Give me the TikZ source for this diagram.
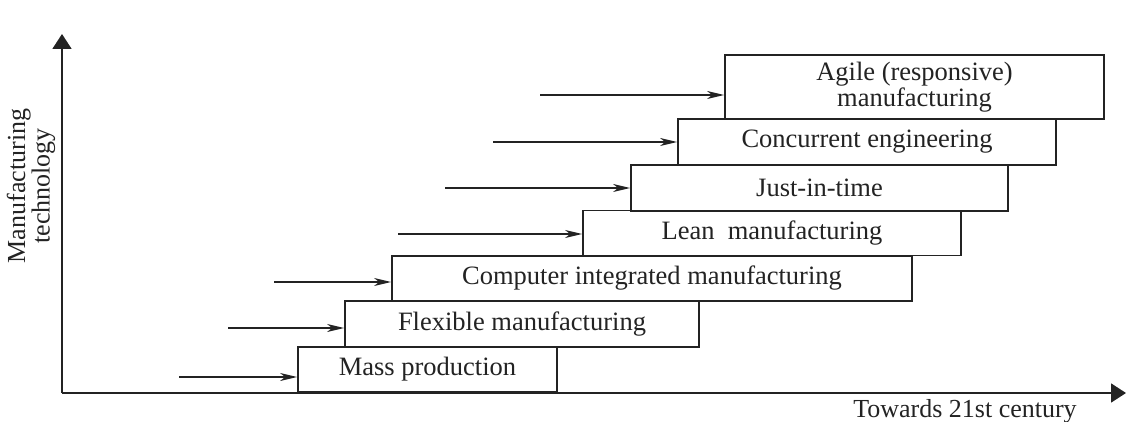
\documentclass[tikz,border=0pt]{standalone}
\usepackage{fontspec}
\setmainfont{Liberation Serif}
\usetikzlibrary{arrows.meta}
\definecolor{ink}{RGB}{35,35,35}
\begin{document}
\begin{tikzpicture}[x=1pt,y=-1pt,
  stage/.style={draw=ink,line width=1.8pt,fill=white,inner sep=0pt,
    font=\fontsize{26.5}{22}\selectfont,text=ink,align=center},
  feed/.style={draw=ink,line width=1.3pt,-{Stealth[length=17pt,width=8pt,inset=5pt]}},
  axis/.style={draw=ink,line width=1.8pt,-{Triangle[length=15pt,width=19pt]}},
  lbl/.style={font=\fontsize{26}{20}\selectfont,text=ink,inner sep=0pt,align=center}]
\useasboundingbox (0,0) rectangle (1135,422);

% axes
\coordinate (o) at (62,393);
\coordinate (ytip) at (62,34);
\coordinate (xtip) at (1126,393);
\draw[axis] (o) -- (ytip);
\draw[axis] (o) -- (xtip);
\node[lbl,rotate=90] (ylab) at (31,186) {Manufacturing\\technology};
\node[lbl] (xlab) at (965,411) {Towards 21st century};

% stages, drawn bottom-up so each step sits on the one below
\node[stage,minimum width=259pt,minimum height=45pt] (m1) at (427.5,369.5) {Mass production};
\node[stage,minimum width=354pt,minimum height=46pt] (m2) at (522,324) {Flexible manufacturing};
\node[stage,minimum width=520pt,minimum height=45pt] (m3) at (652,278.5) {Computer integrated manufacturing};
\node[stage,minimum width=378pt,minimum height=45pt] (m4) at (772,233) {Lean\ \ manufacturing};
\node[stage,minimum width=377pt,minimum height=46pt] (m5) at (819.5,188) {Just-in-time};
\node[stage,minimum width=378pt,minimum height=46pt] (m6) at (867,142) {Concurrent engineering};
\node[stage,minimum width=379pt,minimum height=64pt] (m7) at (914.5,87) {Agile (responsive)\\manufacturing};

% incoming arrows
\coordinate (s1) at (179,377);
\coordinate (s2) at (228,328);
\coordinate (s3) at (274,282);
\coordinate (s4) at (398,234);
\coordinate (s5) at (445,188);
\coordinate (s6) at (493,142);
\coordinate (s7) at (540,95);
\foreach \i in {1,...,7}{
  \draw[feed] (s\i) -- (s\i -| m\i.west);
}
\end{tikzpicture}
\end{document}
